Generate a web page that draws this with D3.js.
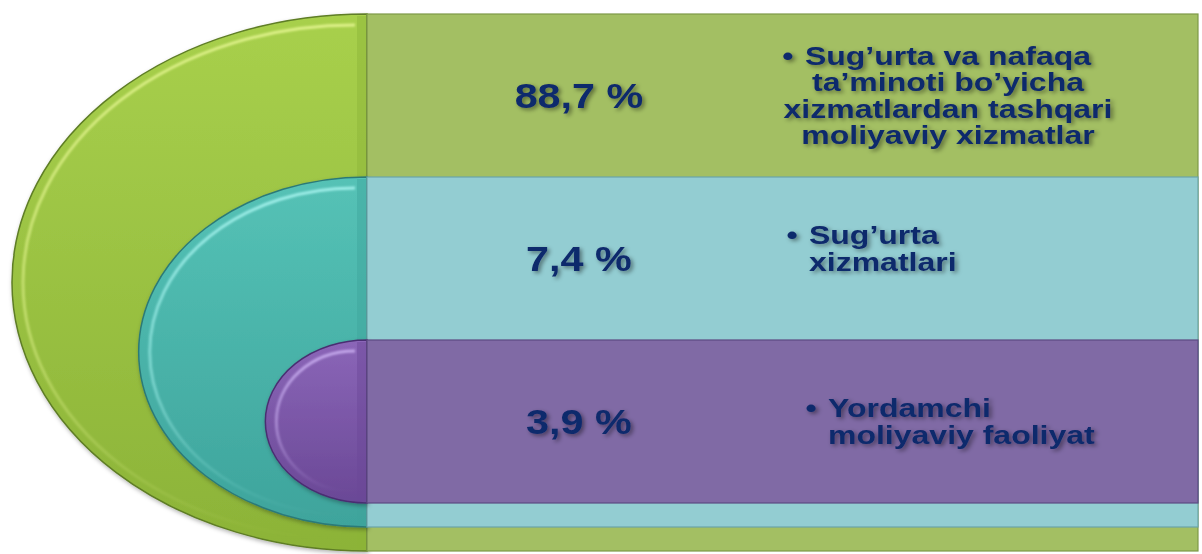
<!DOCTYPE html>
<html>
<head>
<meta charset="utf-8">
<script src="https://cdn.jsdelivr.net/npm/d3@7"></script>
<style>
  body { margin: 0; background: #fff; }
  svg { display: block; }
</style>
</head>
<body>
<div id="chart"></div>
<script>
// shares of financial services (per cent)
var categories = ["Boshqa moliyaviy xizmatlar", "Sug’urta xizmatlari", "Yordamchi moliyaviy faoliyat"];
var shares = [88.7, 7.4, 3.9];
var labelLines = [
  ["Sug’urta va nafaqa", "ta’minoti bo’yicha", "xizmatlardan tashqari", "moliyaviy xizmatlar"],
  ["Sug’urta", "xizmatlari"],
  ["Yordamchi", "moliyaviy faoliyat"]
];

// styles per level
var ellipseTop = ["#a8d04c", "#55c2b6", "#8b66b8"];
var ellipseBottom = ["#8cb338", "#3ea49c", "#6a4896"];
var ellipseEdge = ["#5e7d25", "#2c7a78", "#4a2f72"];
var ellipseLight = ["#e4f590", "#a6f3ee", "#c9aef0"];
var rectFill = ["#a3bf63", "#93cdd2", "#806aa5"];
var rectEdge = ["#7e9948", "#6aa4a8", "#5d4a82"];
var rectLight = ["#b9d57a", "#aee3e8", "#9a86bf"];
var labelAlign = ["middle", "start", "start"];
var labelX = [948, 809, 828];
var labelShift = [0, -10, 0];

var width = 1202, height = 554;
var n = shares.length;
var rectLeft = 367, rectRight = 1198;
var sx = 1.28; // slide text is stretched sideways

var fmt = d3.formatLocale({ decimal: ",", thousands: " ", grouping: [3], currency: ["", ""] }).format(".1f");

// level -> geometry
var yTop = d3.scaleLinear().domain([0, n]).range([14, 503]);
var yBottom = d3.scaleLinear().domain([0, n - 1]).range([551, 503]);
var xLeft = d3.scaleLinear().domain([0, n]).range([12, 392]);

var svg = d3.select("#chart").append("svg")
  .attr("width", width)
  .attr("height", height);

var defs = svg.append("defs");

var shadow = defs.append("filter").attr("id", "textShadow")
  .attr("x", "-10%").attr("y", "-30%").attr("width", "130%").attr("height", "170%");
shadow.append("feDropShadow")
  .attr("dx", 2).attr("dy", 2).attr("stdDeviation", 2)
  .attr("flood-color", "#000").attr("flood-opacity", 0.45);

var shapeShadow = defs.append("filter").attr("id", "shapeShadow")
  .attr("x", "-10%").attr("y", "-10%").attr("width", "120%").attr("height", "120%");
shapeShadow.append("feDropShadow")
  .attr("dx", 1).attr("dy", 2).attr("stdDeviation", 2)
  .attr("flood-color", "#000").attr("flood-opacity", 0.3);

var blur = defs.append("filter").attr("id", "soft");
blur.append("feGaussianBlur").attr("stdDeviation", 1.2);

shares.forEach(function(v, i) {
  var g1 = defs.append("linearGradient").attr("id", "eg" + i)
    .attr("x1", 0).attr("y1", 0).attr("x2", 0).attr("y2", 1);
  g1.append("stop").attr("offset", "0%").attr("stop-color", ellipseTop[i]);
  g1.append("stop").attr("offset", "100%").attr("stop-color", ellipseBottom[i]);

  var g2 = defs.append("linearGradient").attr("id", "hl" + i)
    .attr("x1", 0).attr("y1", 0).attr("x2", 0).attr("y2", 1);
  g2.append("stop").attr("offset", "0%").attr("stop-color", ellipseLight[i]).attr("stop-opacity", 0.9);
  g2.append("stop").attr("offset", "60%").attr("stop-color", ellipseLight[i]).attr("stop-opacity", 0.5);
  g2.append("stop").attr("offset", "100%").attr("stop-color", ellipseLight[i]).attr("stop-opacity", 0);
});

function halfEllipse(cx, top, bottom, left) {
  var rx = cx - left, ry = (bottom - top) / 2;
  return "M" + cx + "," + top + " A" + rx + "," + ry + " 0 0 0 " + cx + "," + bottom + " Z";
}
function halfArc(cx, top, bottom, left) {
  var rx = cx - left, ry = (bottom - top) / 2;
  return "M" + cx + "," + top + " A" + rx + "," + ry + " 0 0 0 " + cx + "," + bottom;
}

var levels = svg.selectAll(".level")
  .data(shares)
  .enter()
  .append("g")
  .attr("class", "level");

levels.each(function(v, i) {
  var g = d3.select(this);
  var top = yTop(i), bottom = yBottom(i), left = xLeft(i);
  var cx = rectLeft;

  // half ellipse
  g.append("path")
    .attr("d", halfEllipse(cx, top, bottom, left))
    .attr("fill", "url(#eg" + i + ")")
    .attr("stroke", ellipseEdge[i])
    .attr("stroke-width", 1.5)
    .attr("filter", "url(#shapeShadow)");

  // bevel highlight inside the edge
  g.append("path")
    .attr("d", halfArc(cx - 12, top + 11, bottom - 11, left + 11))
    .attr("fill", "none")
    .attr("stroke", "url(#hl" + i + ")")
    .attr("stroke-width", 3)
    .attr("filter", "url(#soft)");

  // darker strip along the flat side
  g.append("rect")
    .attr("x", cx - 10)
    .attr("y", top + 2)
    .attr("width", 9)
    .attr("height", bottom - top - 4)
    .attr("fill", ellipseBottom[i])
    .attr("opacity", 0.45);

  // band
  g.append("rect")
    .attr("x", rectLeft)
    .attr("y", top)
    .attr("width", rectRight - rectLeft)
    .attr("height", bottom - top)
    .attr("fill", rectFill[i])
    .attr("stroke", rectEdge[i])
    .attr("stroke-width", 1.2);

  g.append("line")
    .attr("x1", rectLeft + 3).attr("x2", rectLeft + 3)
    .attr("y1", top + 2).attr("y2", bottom - 2)
    .attr("stroke", rectLight[i])
    .attr("stroke-width", 3)
    .attr("filter", "url(#soft)");

  g.append("line")
    .attr("x1", rectRight - 4).attr("x2", rectRight - 4)
    .attr("y1", top + 2).attr("y2", bottom - 2)
    .attr("stroke", rectEdge[i])
    .attr("stroke-width", 3)
    .attr("opacity", 0.5)
    .attr("filter", "url(#soft)");
});

// text in the visible part of each band
function bandMid(i) {
  var b = i < n - 1 ? yTop(i + 1) : yBottom(i);
  return (yTop(i) + b) / 2;
}

var pctX = rectLeft + (rectRight - rectLeft) * 0.255;
var pctSize = 35, labSize = 25, lineH = 26.5, cap = 0.716;

levels.append("g")
  .attr("transform", function(d, i) {
    return "translate(" + pctX + "," + (bandMid(i) + cap * pctSize / 2) + ") scale(1.18,1)";
  })
  .append("text")
  .attr("text-anchor", "middle")
  .attr("font-family", "Liberation Sans, Arial, sans-serif")
  .attr("font-weight", "bold")
  .attr("font-size", pctSize)
  .attr("fill", "#10296c")
  .attr("filter", "url(#textShadow)")
  .text(function(d) { return fmt(d) + " %"; });

levels.each(function(v, i) {
  var lines = labelLines[i];
  var blockH = (lines.length - 1) * lineH + cap * labSize;
  var y0 = bandMid(i) + labelShift[i] - blockH / 2 + cap * labSize;

  var lg = d3.select(this).append("g")
    .attr("transform", "translate(" + labelX[i] + "," + y0 + ") scale(" + sx + ",1)")
    .attr("font-family", "Liberation Sans, Arial, sans-serif")
    .attr("font-weight", "bold")
    .attr("font-size", labSize)
    .attr("fill", "#10296c")
    .attr("filter", "url(#textShadow)");

  var t = lg.selectAll("text.line")
    .data(lines)
    .enter()
    .append("text")
    .attr("class", "line")
    .attr("text-anchor", labelAlign[i])
    .attr("y", function(d, j) { return j * lineH; })
    .text(function(d) { return d; });

  // bullet before the first line
  var first = t.node().getComputedTextLength();
  var start = labelAlign[i] === "middle" ? -first / 2 : 0;
  lg.append("text")
    .attr("text-anchor", "middle")
    .attr("x", start - 17 / sx)
    .attr("y", 0)
    .text("•");
});
</script>
</body>
</html>
